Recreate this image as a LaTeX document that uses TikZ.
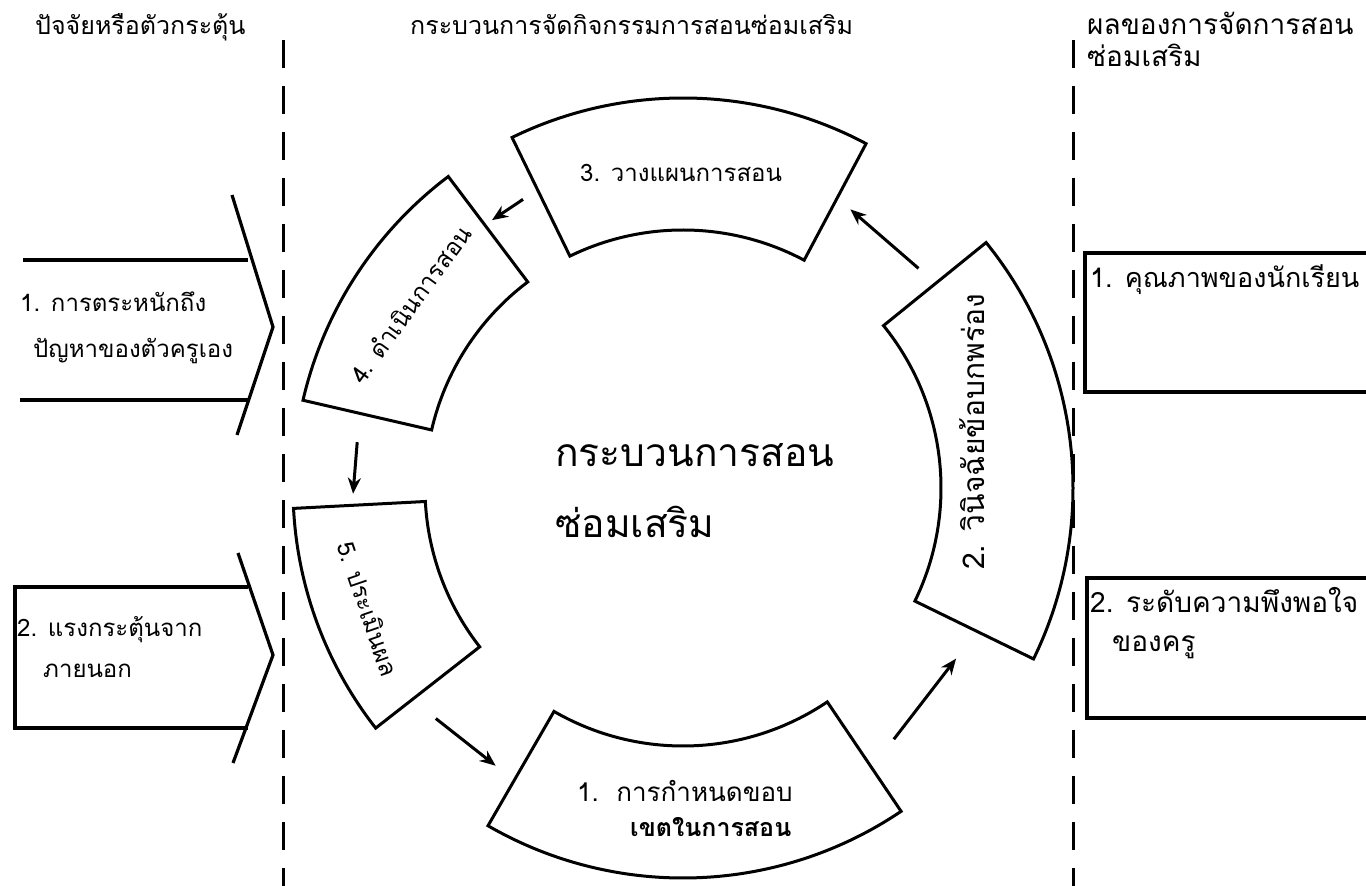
\documentclass[tikz,border=0pt]{standalone}
\usepackage{fontspec}
\newfontfamily\thaifont[Script=Thai]{Loma}
\usepackage{tikz}
\usetikzlibrary{arrows.meta}
\usetikzlibrary{calc}
\usetikzlibrary{positioning}

\begin{document}
\begin{tikzpicture}
  [
    x = 1pt, y = 1pt,
    txt/.style = {font = \thaifont\fontsize{24}{28}\selectfont, inner sep = 0pt, anchor = base west},
    head/.style = {txt, font = \thaifont\fontsize{25}{30}\selectfont},
    big/.style = {txt, font = \thaifont\fontsize{39}{46}\selectfont},
    segtxt/.style = {font = \thaifont\fontsize{24}{28}\selectfont, inner sep = 0pt, anchor = center},
    seg/.style = {line width = 3pt, line join = miter},
    box/.style = {line width = 3.2pt},
    divider/.style = {line width = 3pt, dash pattern = on 28pt off 18pt},
    arrow/.style = {-{Stealth[length = 16pt, width = 13pt]}, line width = 3pt},
  ]
  \useasboundingbox (0,0) rectangle (1366,886);
  \coordinate (c) at (683,398);

  \draw[divider] (283,846) -- (283,0);
  \draw[divider] (1073,846) -- (1073,0);

  \node[head] (h_factor) at (35,851) {ปัจจัยหรือตัวกระตุ้น};
  \node[head] (h_process) at (410,851) {กระบวนการจัดกิจกรรมการสอนซ่อมเสริม};
  \node[head, font = \thaifont\fontsize{28}{32}\selectfont] (h_result) at (1087,851) {ผลของการจัดการสอน};
  \node[head, font = \thaifont\fontsize{28}{32}\selectfont] (h_result2) at (1087,819) {ซ่อมเสริม};

  \draw[box] (23,626) -- (248,626);
  \draw[box] (20,486) -- (248,486);
  \draw[box] (232,691) -- (273,559) -- (237,451);
  \node[txt] (f1a) at (20,574) {1. การตระหนักถึง};
  \node[txt] (f1b) at (33,528) {ปัญหาของตัวครูเอง};

  \draw[box] (248,299) -- (15,299) -- (15,158) -- (248,158);
  \draw[box] (238,333) -- (273,231) -- (233,123);
  \node[txt] (f2a) at (17,249) {2. แรงกระตุ้นจาก};
  \node[txt] (f2b) at (43,208) {ภายนอก};

  \draw[box] (1366,633) -- (1085,633) -- (1085,494) -- (1366,494);
  \node[txt, font = \thaifont\fontsize{27}{32}\selectfont] (r1) at (1090,598) {1. คุณภาพของนักเรียน};
  \draw[box] (1366,308) -- (1087,308) -- (1087,168) -- (1366,168);
  \node[txt, font = \thaifont\fontsize{28}{32}\selectfont] (r2a) at (1090,273) {2. ระดับความพึงพอใจ};
  \node[txt, font = \thaifont\fontsize{28}{32}\selectfont] (r2b) at (1112,234) {ของครู};

  \draw[seg] ($(c)+(240:258)$) arc[start angle = 240, end angle = 304, radius = 258]
    -- ($(c)+(304:390)$) arc[start angle = 304, end angle = 240, radius = 390] -- cycle;
  \draw[seg] ($(c)+(-26:258)$) arc[start angle = -26, end angle = 39, radius = 258]
    -- ($(c)+(39:390)$) arc[start angle = 39, end angle = -26, radius = 390] -- cycle;
  \draw[seg] ($(c)+(62:258)$) arc[start angle = 62, end angle = 116, radius = 258]
    -- ($(c)+(116:390)$) arc[start angle = 116, end angle = 62, radius = 390] -- cycle;
  \draw[seg] ($(c)+(127:258)$) arc[start angle = 127, end angle = 167, radius = 258]
    -- ($(c)+(167:390)$) arc[start angle = 167, end angle = 127, radius = 390] -- cycle;
  \draw[seg] ($(c)+(183:258)$) arc[start angle = 183, end angle = 218, radius = 258]
    -- ($(c)+(218:390)$) arc[start angle = 218, end angle = 183, radius = 390] -- cycle;

  \node[txt, font = \thaifont\fontsize{26}{30}\selectfont] (s1a) at (577,84) {1.~~การกำหนดขอบ};
  \node[txt, font = \thaifont\bfseries\fontsize{25}{30}\selectfont] (s1b) at (630,49) {เขตในการสอน};
  \node[segtxt, rotate = 90, font = \thaifont\fontsize{30}{34}\selectfont] (s2) at ($(c)+(11:294)$) {2. วินิจฉัยข้อบกพร่อง};
  \node[txt] (s3) at (580,704) {3. วางแผนการสอน};
  \node[segtxt, rotate = 54] (s4) at ($(c)+(146:329)$) {4. ดำเนินการสอน};
  \node[segtxt, rotate = -71] (s5) at ($(c)+(201:337)$) {5. ประเมินผล};

  \node[big] (core_a) at (555,419) {กระบวนการสอน};
  \node[big] (core_b) at (555,348) {ซ่อมเสริม};

  \coordinate (a12s) at ($(c)+(310:328)$);
  \coordinate (a12e) at ($(c)+(328:322)$);
  \coordinate (a23s) at ($(c)+(43:322)$);
  \coordinate (a23e) at ($(c)+(59:325)$);
  \coordinate (a34s) at ($(c)+(119:330)$);
  \coordinate (a34e) at ($(c)+(125.5:329)$);
  \coordinate (a45s) at ($(c)+(172:329)$);
  \coordinate (a45e) at ($(c)+(181:330)$);
  \coordinate (a51s) at ($(c)+(223:338)$);
  \coordinate (a51e) at ($(c)+(236:335)$);
  \draw[arrow] (a12s) -- (a12e);
  \draw[arrow] (a23s) -- (a23e);
  \draw[arrow] (a34s) -- (a34e);
  \draw[arrow] (a45s) -- (a45e);
  \draw[arrow] (a51s) -- (a51e);
\end{tikzpicture}
\end{document}
